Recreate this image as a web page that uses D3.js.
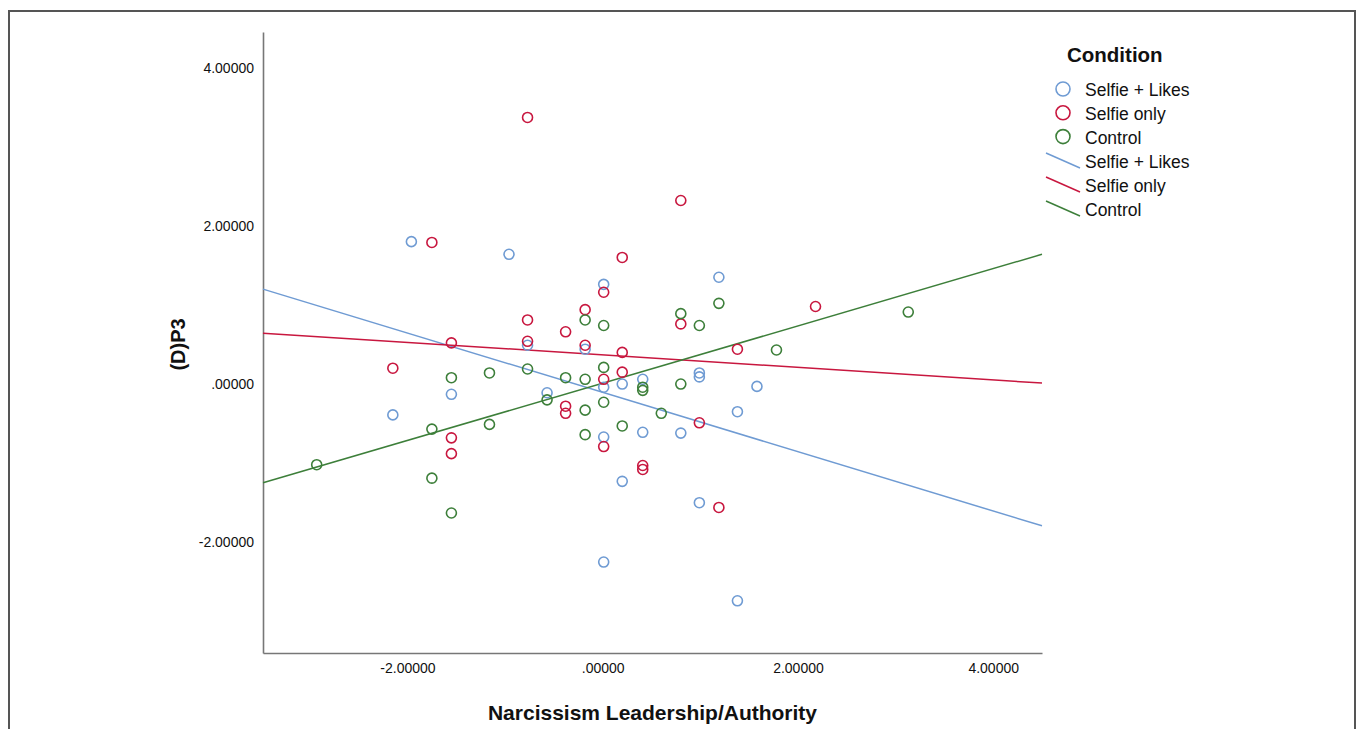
<!DOCTYPE html>
<html lang="en">
<head>
<meta charset="UTF-8">
<title>(D)P3 by Narcissism Leadership/Authority</title>
<style>
  body { margin: 0; background: #fff; font-family: "Liberation Sans", Arial, sans-serif; }
  svg { display: block; }
</style>
</head>
<body>
<div id="chart"></div>
<script src="https://cdn.jsdelivr.net/npm/d3@7"></script>
<script>
// condition names and colours
const conditions = ["Selfie + Likes", "Selfie only", "Control"];
const colors = ["#6f9bd3", "#c8173f", "#3d7f3a"];

// points [x, y]
const selfieLikes = [
  [-1.96, 1.80], [-0.96, 1.64], [-2.15, -0.39], [-1.55, -0.13], [-0.77, 0.49],
  [-0.57, -0.11], [-0.18, 0.44], [0.01, 1.26], [0.01, -0.04], [0.01, -0.67],
  [0.20, 0.00], [0.41, 0.06], [0.41, -0.61], [0.20, -1.23], [0.01, -2.25],
  [0.80, -0.62], [0.99, 0.14], [0.99, 0.09], [1.19, 1.35], [1.38, -0.35],
  [1.58, -0.03], [0.99, -1.50], [1.38, -2.74]
];
const selfieOnly = [
  [-0.77, 3.37], [-1.75, 1.79], [0.20, 1.60], [0.01, 1.16], [-0.18, 0.94],
  [-0.77, 0.81], [-0.38, 0.66], [-0.77, 0.54], [-0.18, 0.49], [0.20, 0.40],
  [-1.55, 0.52], [-2.15, 0.20], [0.20, 0.15], [0.01, 0.06], [-0.38, -0.28],
  [-0.38, -0.37], [-1.55, -0.68], [-1.55, -0.88], [0.01, -0.79], [0.41, -1.03],
  [0.41, -1.08], [0.80, 2.32], [0.80, 0.76], [1.38, 0.44], [2.18, 0.98],
  [0.99, -0.49], [1.19, -1.56]
];
const control = [
  [-2.93, -1.02], [-1.75, -0.57], [-1.75, -1.19], [-1.55, 0.08], [-1.55, -1.63],
  [-1.16, 0.14], [-1.16, -0.51], [-0.77, 0.19], [-0.57, -0.20], [-0.38, 0.08],
  [-0.18, 0.81], [-0.18, 0.06], [-0.18, -0.33], [-0.18, -0.64], [0.01, 0.74],
  [0.01, 0.21], [0.01, -0.23], [0.20, -0.53], [0.41, -0.04], [0.41, -0.08],
  [0.60, -0.37], [0.80, 0.89], [0.99, 0.74], [1.19, 1.02], [1.78, 0.43],
  [0.80, 0.00], [3.13, 0.91]
];
const seriesPoints = [selfieLikes, selfieOnly, control];

// fit lines: intercept, slope
const fitIntercepts = [-0.105, 0.368, 0.011];
const fitSlopes = [-0.375, -0.079, 0.362];

const xTicks = [-2, 0, 2, 4];
const yTicks = [-2, 0, 2, 4];
// SPSS style: no leading zero, plain hyphen
const fmt = v => v === 0 ? ".00000" : v.toFixed(5);

const width = 1360, height = 729;
const margin = { left: 263, right: 318, top: 32, bottom: 76 };

const svg = d3.select("#chart").append("svg")
  .attr("width", width).attr("height", height);

// outer frame
svg.append("path")
  .attr("d", `M9,${height} V11 H1355 V${height}`)
  .attr("fill", "none").attr("stroke", "#555").attr("stroke-width", 2);

const x = d3.scaleLinear().domain([-3.48, 4.5])
  .range([margin.left, width - margin.right]);
const y = d3.scaleLinear().domain([-3.4, 4.45])
  .range([height - margin.bottom, margin.top]);

// axes
const xAxis = svg.append("g")
  .attr("transform", `translate(0,${height - margin.bottom})`)
  .call(d3.axisBottom(x).tickValues(xTicks).tickFormat(fmt).tickSize(0).tickPadding(10));
const yAxis = svg.append("g")
  .attr("transform", `translate(${margin.left},0)`)
  .call(d3.axisLeft(y).tickValues(yTicks).tickFormat(fmt).tickSize(0).tickPadding(9));

[xAxis, yAxis].forEach(a => {
  a.select(".domain").attr("stroke", "#777").attr("stroke-width", 1.6);
  a.selectAll("text").attr("font-size", 14).attr("fill", "#111")
    .attr("font-family", "'Liberation Sans', Arial, sans-serif");
});

svg.append("text")
  .attr("x", (margin.left + width - margin.right) / 2).attr("y", 720)
  .attr("text-anchor", "middle").attr("font-size", 21).attr("font-weight", "bold")
  .attr("fill", "#111").text("Narcissism Leadership/Authority");

svg.append("text")
  .attr("transform", `translate(185,${y(0.5)}) rotate(-90)`)
  .attr("text-anchor", "middle").attr("font-size", 20).attr("font-weight", "bold")
  .attr("fill", "#111").text("(D)P3");

// fit lines
const xd = x.domain();
conditions.forEach((c, i) => {
  svg.append("line")
    .attr("x1", x(xd[0])).attr("y1", y(fitIntercepts[i] + fitSlopes[i] * xd[0]))
    .attr("x2", x(xd[1])).attr("y2", y(fitIntercepts[i] + fitSlopes[i] * xd[1]))
    .attr("stroke", colors[i]).attr("stroke-width", 1.5);
});

// points
conditions.forEach((c, i) => {
  svg.append("g").selectAll("circle")
    .data(seriesPoints[i])
    .join("circle")
    .attr("cx", d => x(d[0])).attr("cy", d => y(d[1]))
    .attr("r", 5)
    .attr("fill", "none").attr("stroke", colors[i]).attr("stroke-width", 1.6);
});

// legend
const lg = svg.append("g").attr("transform", "translate(1045,0)");
lg.append("text").attr("x", 22).attr("y", 62)
  .attr("font-size", 20.5).attr("font-weight", "bold").attr("fill", "#111").text("Condition");
conditions.forEach((c, i) => {
  const yy = 90 + i * 23.8;
  lg.append("circle").attr("cx", 18).attr("cy", yy - 1).attr("r", 7)
    .attr("fill", "none").attr("stroke", colors[i]).attr("stroke-width", 1.6);
  lg.append("text").attr("x", 40).attr("y", yy + 6)
    .attr("font-size", 17.5).attr("fill", "#111").text(c);
});
conditions.forEach((c, i) => {
  const yy = 162 + i * 24;
  lg.append("line").attr("x1", 1).attr("y1", yy - 9).attr("x2", 35).attr("y2", yy + 6)
    .attr("stroke", colors[i]).attr("stroke-width", 1.5);
  lg.append("text").attr("x", 40).attr("y", yy + 6)
    .attr("font-size", 17.5).attr("fill", "#111").text(c);
});
</script>
</body>
</html>
